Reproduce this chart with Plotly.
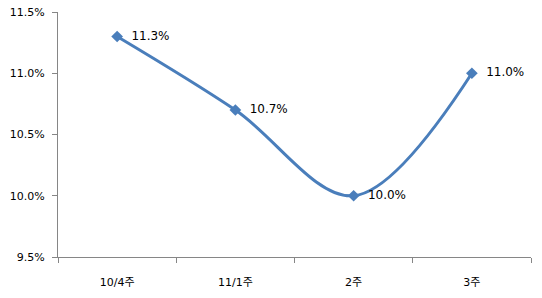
import plotly.graph_objects as go

categories = ["10/4주", "11/1주", "2주", "3주"]
values = [11.3, 10.7, 10.0, 11.0]
labels = ["11.3%", "10.7%", "10.0%", "11.0%"]
ytick_vals = [9.5, 10.0, 10.5, 11.0, 11.5]
ytick_text = ["9.5%", "10.0%", "10.5%", "11.0%", "11.5%"]

font_family = "DejaVu Sans, Noto Sans CJK KR"

fig = go.Figure()
fig.add_trace(go.Scatter(
    x=categories, y=values, mode="lines+markers+text",
    line=dict(color="#4A7EBB", width=3, shape="spline", smoothing=1),
    marker=dict(symbol="diamond", size=9, color="#4A7EBB"),
    text=labels, texttemplate="  %{text}", textposition="middle right",
    textfont=dict(family=font_family, size=12, color="#000000"),
    cliponaxis=False,
))

fig.update_layout(
    width=542, height=298,
    margin=dict(l=58, r=11, t=12, b=41, autoexpand=False),
    paper_bgcolor="white", plot_bgcolor="white",
    showlegend=False,
    font=dict(family=font_family, size=11, color="#000000"),
)
fig.update_xaxes(
    type="category", range=[-0.5, 3.5], tickson="boundaries",
    ticks="outside", ticklen=5, tickcolor="#868686",
    showline=True, linecolor="#868686", linewidth=1,
    showgrid=False, zeroline=False, automargin=False,
    ticklabelstandoff=15,
    tickfont=dict(family=font_family, size=11),
)
fig.update_yaxes(
    range=[9.5, 11.5], tickvals=ytick_vals, ticktext=ytick_text,
    ticks="outside", ticklen=5, tickcolor="#868686",
    showline=True, linecolor="#868686", linewidth=1,
    showgrid=False, zeroline=False, automargin=False,
    ticklabelstandoff=5,
    tickfont=dict(family=font_family, size=11),
)

fig.write_html("out.html")
